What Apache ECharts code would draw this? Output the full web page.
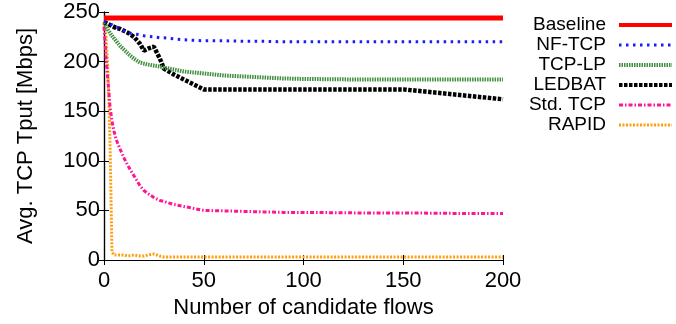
<!DOCTYPE html>
<html><head><meta charset="utf-8">
<script src="https://cdn.jsdelivr.net/npm/echarts@6/dist/echarts.min.js"></script>
<style>html,body{margin:0;padding:0;background:#fff}#c{width:676px;height:324px}</style>
</head><body><div id="c"></div>
<script>
const flows = [0,1,2,3,4,5,6,8,10,12,15,18,20,22,25,28,30,35,40,45,50,60,70,80,90,100,125,150,175,200];
const baseline = [244,244,244,244,244,244,244,244,244,244,244,244,244,244,244,244,244,244,244,244,244,244,244,244,244,244,244,244,244,244];
const nftcp    = [241,240,239,238,237,236,235,233,231,229,228,227,226,225.5,225,224,224,223,222,221.5,221,221,220.5,220.5,220,220,220,220,220,220];
const tcplp    = [239,236,232,229,226,224,221,216,212,208,203,199,198,197,196,195,194,192,190,189,188,186,185,184,183,182.5,182,182,182,182];
const ledbat   = [240,239,238,237,236,235,234,233,231,229,225,218,211,213,215,203,193,187,182,177,172,172,172,172,172,172,172,172,167,162];
const stdtcp   = [235,205,180,155,140,130,122,112,103,95,85,75,70,67,63,60,59,56,54,52,50,49.5,49,48.5,48,48,47.5,47.5,47,47];
const rapid    = [240,225,190,120,8,5,4,5,5,4,5,4,4,5,6,4,3,3,3,3,3,3,3,3,3,3,3,3,3,3];
const names = ['Baseline','NF-TCP','TCP-LP','LEDBAT','Std. TCP','RAPID'];
const xTicks = [0,50,100,150,200];
const yTicks = [0,50,100,150,200,250];

const pair = arr => flows.map((x,i)=>[x,arr[i]]);
const styles = [
  {color:'#ff0000', width:5, type:'solid'},
  {color:'#1a1aff', width:3, type:[2.5,4.5]},
  {color:'#3f8f3f', width:4, type:[1.5,1]},
  {color:'#000000', width:4.5, type:[3.5,1.5]},
  {color:'#ff1493', width:3, type:[4,2,1.5,2]},
  {color:'#ffa010', width:3, type:[2,1.5]}
];
const datas = [baseline,nftcp,tcplp,ledbat,stdtcp,rapid];
const font = 'Liberation Sans, Arial, sans-serif';
const chart = echarts.init(document.getElementById('c'), null, {renderer:'canvas'});
const axisCommon = {
  axisLine:{show:true, lineStyle:{color:'#000', width:1.2}},
  axisTick:{show:true, inside:true, length:5, lineStyle:{color:'#000'}},
  splitLine:{show:false}
};
chart.setOption({
  animation:false,
  grid:{left:104, right:173, top:12, bottom:64},
  legend:{
    data:names.map((n,i)=>({name:n, lineStyle:{color:styles[i].color, width:Math.min(styles[i].width,4), type:styles[i].type}})),
    orient:'vertical', right:2, top:15, align:'right', padding:0,
    itemWidth:53, itemHeight:14, itemGap:0,
    itemStyle:{opacity:0},
    textStyle:{fontFamily:font, fontSize:19, color:'#000', lineHeight:20, padding:[0,8,0,0]}
  },
  xAxis:[
    Object.assign({type:'value', min:0, max:200, interval:50, position:'bottom',
      name:'Number of candidate flows', nameLocation:'middle', nameGap:35,
      nameTextStyle:{fontFamily:font, fontSize:22, color:'#000'},
      axisLabel:{fontFamily:font, fontSize:22, color:'#000', margin:10,
        formatter:v=>xTicks.includes(v)?String(v):''}}, axisCommon),
    Object.assign({type:'value', min:0, max:200, interval:50, position:'top',
      axisLabel:{show:false}}, axisCommon)
  ],
  yAxis:[
    Object.assign({type:'value', min:0, max:250, interval:50, position:'left',
      name:'Avg. TCP Tput [Mbps]', nameLocation:'middle', nameGap:67,
      nameTextStyle:{fontFamily:font, fontSize:22, color:'#000'},
      axisLabel:{fontFamily:font, fontSize:22, color:'#000', margin:4,
        formatter:v=>yTicks.includes(v)?String(v):''}}, axisCommon),
    Object.assign({type:'value', min:0, max:250, interval:50, position:'right',
      axisLabel:{show:false}}, axisCommon)
  ],
  series: names.map((n,i)=>({
    name:n, type:'line', data:pair(datas[i]), symbol:'none', smooth:false,
    xAxisIndex:0, yAxisIndex:0,
    lineStyle:{color:styles[i].color, width:styles[i].width, type:styles[i].type, cap:'butt'},
    itemStyle:{color:styles[i].color},
    z: 10-i
  }))
});
</script></body></html>
